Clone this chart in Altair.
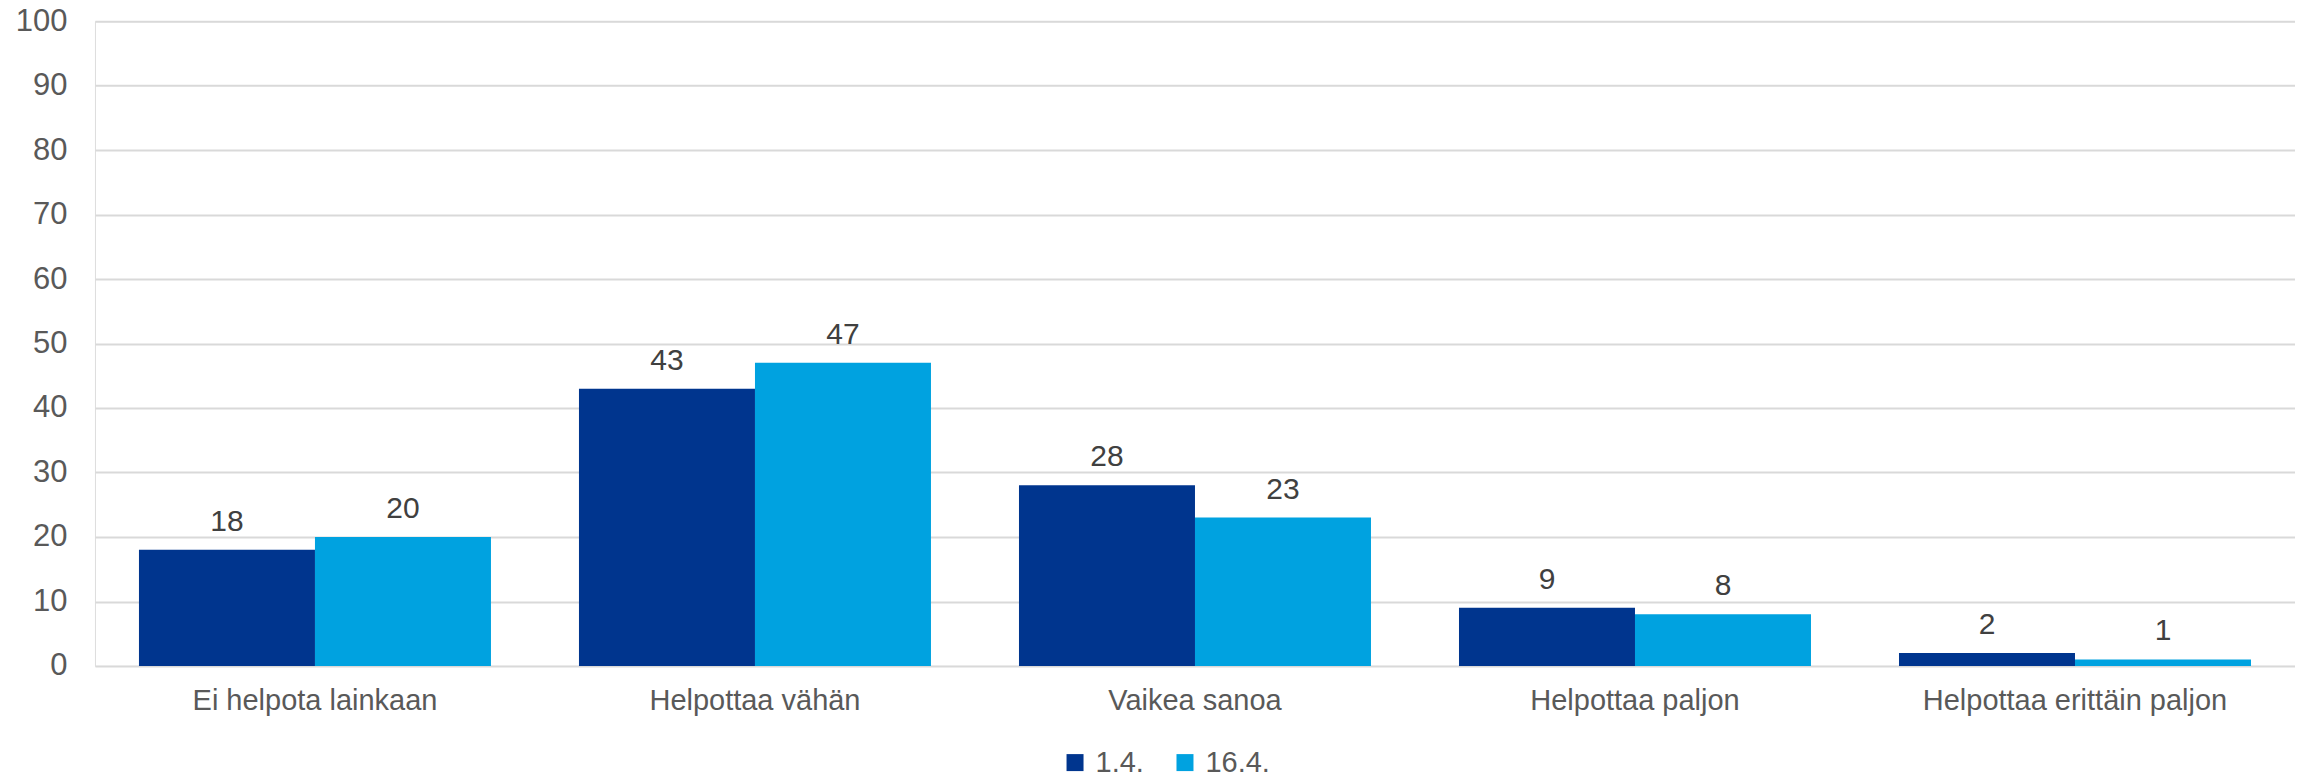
import altair as alt
import pandas as pd

categories = ["Ei helpota lainkaan", "Helpottaa vähän", "Vaikea sanoa",
              "Helpottaa paljon", "Helpottaa erittäin paljon"]
series_names = ["1.4.", "16.4."]
values_1 = [18, 43, 28, 9, 2]
values_2 = [20, 47, 23, 8, 1]
colors = ["#00358E", "#00A2E0"]

rows = []
for c, v in zip(categories, values_1):
    rows.append({"cat": c, "series": series_names[0], "value": v})
for c, v in zip(categories, values_2):
    rows.append({"cat": c, "series": series_names[1], "value": v})
df = pd.DataFrame(rows)

FONT = "Liberation Sans, Arial, sans-serif"

x = alt.X("cat:N", sort=categories, title=None,
          scale=alt.Scale(paddingInner=0.2, paddingOuter=0.1),
          axis=alt.Axis(labelAngle=0, domain=False, ticks=False, labelFontSize=29,
                        labelColor="#595959", labelPadding=21, labelFont=FONT,
                        labelLimit=0))
xoff = alt.XOffset("series:N", sort=series_names, scale=alt.Scale(paddingInner=0, paddingOuter=0))
y = alt.Y("value:Q", title=None, scale=alt.Scale(domain=[0, 100], nice=False),
          axis=alt.Axis(values=list(range(0, 101, 10)), domain=False, ticks=False,
                        labelFontSize=31, labelColor="#595959", labelPadding=28,
                        gridColor="#D9D9D9", gridWidth=2, labelFont=FONT))

color = alt.Color("series:N", sort=series_names,
                  scale=alt.Scale(domain=series_names, range=colors),
                  legend=alt.Legend(title=None, orient="none", direction="horizontal",
                                    legendX=966, legendY=727, symbolType="square",
                                    symbolSize=289, symbolStrokeWidth=0, labelFontSize=29,
                                    labelColor="#595959", labelOffset=6, columnPadding=26,
                                    padding=0, labelFont=FONT, labelLimit=0))

base = alt.Chart(df)
bars = base.mark_bar().encode(x=x, xOffset=xoff, y=y, color=color)
labels = base.mark_text(dy=-19, baseline="alphabetic", fontSize=30, color="#404040",
                        font=FONT).encode(
    x=alt.X("cat:N", sort=categories), xOffset=alt.XOffset("series:N", sort=series_names),
    y="value:Q", text=alt.Text("value:Q"))

chart = alt.layer(bars, labels).properties(
    width=2201, height=645,
    autosize=alt.AutoSizeParams(type="none"),
    padding={"left": 87, "top": 13, "right": 0, "bottom": 130},
).configure_view(stroke=None).configure(font=FONT)

chart.save("out.html", embed_options={"renderer": "svg", "actions": False})
